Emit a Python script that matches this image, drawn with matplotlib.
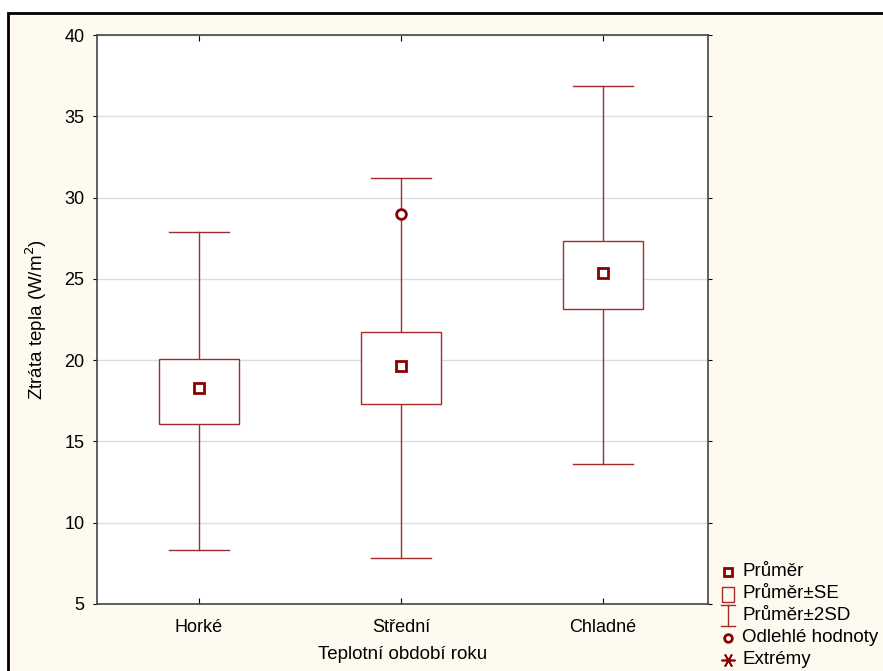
import matplotlib
matplotlib.use("Agg")
import matplotlib.pyplot as plt
from matplotlib.lines import Line2D
from matplotlib.patches import Rectangle

plt.rcParams['font.family'] = ['Liberation Sans', 'DejaVu Sans']

categories = ["Horké", "Střední", "Chladné"]
means = [18.3, 19.65, 25.35]
se_low = [16.1, 17.3, 23.15]
se_high = [20.1, 21.75, 27.3]
sd2_low = [8.3, 7.85, 13.6]
sd2_high = [27.9, 31.2, 36.85]
outlier_cat = [1]
outlier_val = [29.0]

W, H = 883, 671
fig = plt.figure(figsize=(W / 100, H / 100), dpi=100)
fig.patch.set_facecolor("white")


def px(x, y):
    return (x / W, 1 - y / H)


# cream panel with black frame
bg = Rectangle(px(8, 672), (W - 8 + 5) / W, (672 - 13) / H, transform=fig.transFigure,
               facecolor="#fffaf0", edgecolor="black", linewidth=2, zorder=0)
fig.add_artist(bg)

ax = fig.add_axes([97 / W, 1 - 604 / H, (708 - 97) / W, (604 - 35) / H])
ax.set_facecolor("white")

line_c = "#a52a2a"
mark_c = "#8b0000"
box_half = 0.2
cap_half = 0.15

for i in range(len(categories)):
    ax.plot([i, i], [sd2_low[i], se_low[i]], color=line_c, lw=1, zorder=3)
    ax.plot([i, i], [se_high[i], sd2_high[i]], color=line_c, lw=1, zorder=3)
    ax.plot([i - cap_half, i + cap_half], [sd2_low[i]] * 2, color=line_c, lw=1, zorder=3)
    ax.plot([i - cap_half, i + cap_half], [sd2_high[i]] * 2, color=line_c, lw=1, zorder=3)
    ax.add_patch(Rectangle((i - box_half, se_low[i]), 2 * box_half, se_high[i] - se_low[i],
                           facecolor="white", edgecolor=line_c, lw=1, zorder=3))

ax.plot(range(len(categories)), means, linestyle="none", marker="s", markersize=7,
        markerfacecolor="white", markeredgecolor=mark_c, markeredgewidth=2, zorder=4)
ax.plot(outlier_cat, outlier_val, linestyle="none", marker="o", markersize=7,
        markerfacecolor="white", markeredgecolor=mark_c, markeredgewidth=2, zorder=4)

ax.set_xlim(-0.505, 2.52)
ax.set_ylim(5, 40)
ax.set_xticks(range(len(categories)))
ax.set_xticklabels(categories)
ax.set_yticks(range(5, 41, 5))
ax.yaxis.grid(True, color="#dddddd", lw=1)
ax.set_axisbelow(True)
ax.tick_params(axis="x", direction="in", top=True, length=4, labelsize=13, pad=11)
ax.tick_params(axis="y", direction="out", right=True, length=3, labelsize=13, pad=6)
for s in ax.spines.values():
    s.set_color("#444444")
    s.set_linewidth(1.2)

ax.set_xlabel("Teplotní období roku", fontsize=13.5, labelpad=7)
ax.set_ylabel("Ztráta tepla (W/m$^2$)", fontsize=13.5, labelpad=11)

# legend drawn by hand
rows = [572, 594, 615, 638, 660]
labels = ["Průměr", "Průměr±SE", "Průměr±2SD", "Odlehlé hodnoty", "Extrémy"]
sx = 727.5
fig.add_artist(Line2D([px(sx, 0)[0]], [px(0, rows[0])[1]], marker="s", markersize=5.5,
                      markerfacecolor="white", markeredgecolor=mark_c, markeredgewidth=2,
                      transform=fig.transFigure))
fig.add_artist(Rectangle(px(sx - 6, rows[1] + 8), 12 / W, 15 / H, transform=fig.transFigure,
                         facecolor="none", edgecolor=line_c, lw=1))
y0, y1 = rows[2] - 10, rows[2] + 11
for xs, ys in [([sx, sx], [y0, y1]), ([sx - 7, sx + 7], [y0, y0]), ([sx - 7, sx + 7], [y1, y1])]:
    fig.add_artist(Line2D([x / W for x in xs], [1 - y / H for y in ys], color=line_c, lw=1,
                          transform=fig.transFigure))
fig.add_artist(Line2D([px(sx, 0)[0]], [px(0, rows[3])[1]], marker="o", markersize=5.5,
                      markerfacecolor="white", markeredgecolor=mark_c, markeredgewidth=2,
                      transform=fig.transFigure))
fig.add_artist(Line2D([px(sx, 0)[0]], [px(0, rows[4])[1]], marker=(6, 2, 90), markersize=10,
                      markeredgecolor=mark_c, markeredgewidth=1.2, transform=fig.transFigure))
for r, lab in zip(rows, labels):
    fig.text(*px(742, r), lab, fontsize=13.5, va="center", ha="left")

fig.savefig("out.png", dpi=100)
